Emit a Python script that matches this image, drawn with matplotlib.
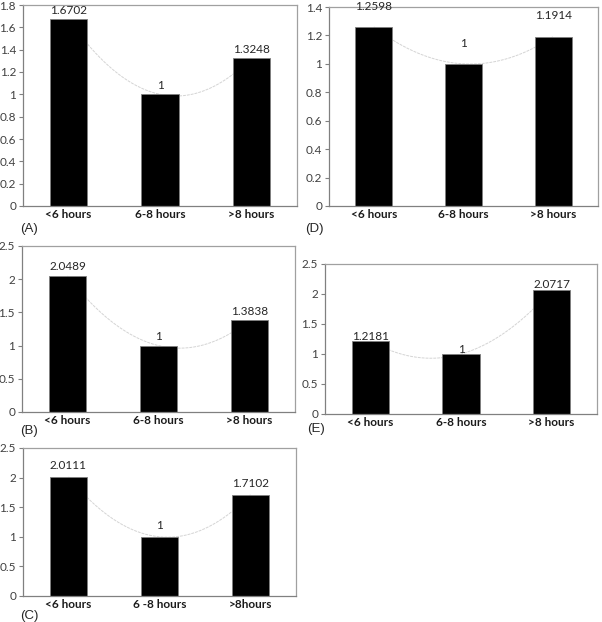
import numpy as np
import matplotlib
matplotlib.use('Agg')
import matplotlib.pyplot as plt
from matplotlib.ticker import MultipleLocator, FormatStrFormatter

plt.rcParams['font.family'] = ['Lato', 'DejaVu Sans']

# 数据
categories = ['<6 hours', '6-8 hours', '>8 hours']
categories_c = ['<6 hours', '6 -8 hours', '>8hours']
vals_a = [1.6702, 1, 1.3248]
vals_b = [2.0489, 1, 1.3838]
vals_c = [2.0111, 1, 1.7102]
vals_d = [1.2598, 1, 1.1914]
vals_e = [1.2181, 1, 2.0717]

W, H = 602, 622
fig = plt.figure(figsize=(W / 100, H / 100), dpi=100)


def px_axes(l, t, r, b):
    return fig.add_axes([l / W, 1 - b / H, (r - l) / W, (b - t) / H])


def draw_panel(ax, cats, vals, ymax, ystep, lab_off, tag, tag_xy):
    x = np.arange(len(cats))
    # 二次趋势线 (在柱子后面)
    coef = np.polyfit(x, vals, 2)
    xs = np.linspace(0, 2, 200)
    ax.plot(xs, np.polyval(coef, xs), color='#d4d4d4', lw=0.7,
            linestyle=(0, (3, 1)), zorder=1)
    ax.bar(x, vals, width=0.41, color='black', edgecolor='#7f7f7f',
           linewidth=0.6, zorder=2)
    for xi, v in zip(x, vals):
        ax.annotate('%g' % v, (xi, v), xytext=(0, lab_off),
                    textcoords='offset points', ha='center', va='center',
                    fontsize=8.5, color='#262626', zorder=3,
                    annotation_clip=False)
    ax.set_xlim(-0.5, 2.5)
    ax.set_ylim(0, ymax)
    ax.yaxis.set_major_locator(MultipleLocator(ystep))
    ax.yaxis.set_major_formatter(FormatStrFormatter('%g'))
    ax.set_xticks(x)
    ax.set_xticklabels(cats, fontweight='bold', fontsize=8.5, color='#1a1a1a')
    ax.tick_params(axis='x', length=0, pad=2)
    ax.tick_params(axis='y', length=3, width=0.8, color='#808080',
                   labelsize=8.5, labelcolor='#404040', pad=2)
    for s in ['left', 'bottom']:
        ax.spines[s].set_color('#808080')
        ax.spines[s].set_linewidth(0.9)
    for s in ['top', 'right']:
        ax.spines[s].set_color('#a0a0a0')
        ax.spines[s].set_linewidth(0.9)
    fig.text(tag_xy[0] / W, 1 - tag_xy[1] / H, tag, fontsize=9.5,
             family='Liberation Sans', color='#262626', va='center')


ax_a = px_axes(23, 5, 297, 206)
draw_panel(ax_a, categories, vals_a, 1.8, 0.2, 6.5, '(A)', (20, 229))

ax_d = px_axes(329, 7, 598, 206)
draw_panel(ax_d, categories, vals_d, 1.4, 0.2, 15, '(D)', (305, 229))

ax_b = px_axes(22, 246, 295, 412)
draw_panel(ax_b, categories, vals_b, 2.5, 0.5, 6.5, '(B)', (20, 431))

ax_e = px_axes(325, 264, 597, 414)
draw_panel(ax_e, categories, vals_e, 2.5, 0.5, 3.5, '(E)', (307, 429))

ax_c = px_axes(23, 448, 296, 596)
draw_panel(ax_c, categories_c, vals_c, 2.5, 0.5, 8, '(C)', (20, 616))

plt.savefig('out.png', dpi=100)
